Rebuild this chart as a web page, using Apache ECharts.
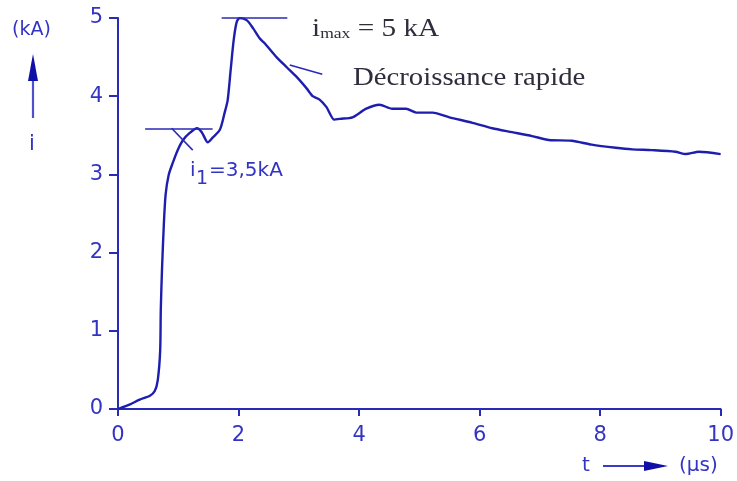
<!DOCTYPE html>
<html><head><meta charset="utf-8">
<script src="https://cdn.jsdelivr.net/npm/echarts@6/dist/echarts.min.js"></script>
<style>html,body{margin:0;padding:0;background:#fff}#c{width:737px;height:481px}</style>
</head><body><div id="c"></div>
<script>
// time (µs)
const tValues = [0,0.2,0.36,0.53,0.61,0.66,0.70,0.71,0.73,0.76,0.79,0.84,0.91,0.99,1.08,1.19,1.31,1.39,1.49,1.57,1.69,1.77,1.82,1.87,1.92,1.97,2.02,2.14,2.24,2.35,2.43,2.63,2.80,2.96,3.13,3.23,3.34,3.46,3.59,3.68,3.89,4.12,4.34,4.55,4.78,4.95,5.22,5.5,5.88,6.21,6.54,6.87,7.15,7.53,7.86,8.26,8.53,8.86,9.25,9.42,9.64,10.0];
// current (kA)
const iValues = [0,0.06,0.12,0.17,0.23,0.37,0.75,1.27,1.78,2.35,2.74,2.99,3.15,3.31,3.44,3.53,3.59,3.54,3.41,3.47,3.57,3.79,3.95,4.34,4.72,4.95,5.0,4.97,4.87,4.74,4.68,4.5,4.37,4.25,4.1,4.0,3.96,3.86,3.7,3.71,3.73,3.84,3.89,3.84,3.84,3.79,3.79,3.73,3.66,3.59,3.54,3.49,3.44,3.43,3.38,3.34,3.32,3.31,3.29,3.26,3.29,3.26];
const xTicks = [0,2,4,6,8,10];
const yTicks = [0,1,2,3,4,5];
// annotation segments [t1,i1,t2,i2]
const i1Line = [0.45,3.59,1.57,3.59];
const i1Diag = [0.89,3.59,1.24,3.31];
const imaxLine = [1.72,5.0,2.81,5.0];
const decLine = [2.85,4.4,3.39,4.28];

const AX = '#2a2ab8', CURVE = '#1e1eae', TXT = '#3434c4', SERIF = '#2e2e3c';
const series = tValues.map((t,k)=>[t,iValues[k]]);
function seg(s){return [{coord:[s[0],s[1]]},{coord:[s[2],s[3]]}];}
const SANS = '"DejaVu Sans"';

const chart = echarts.init(document.getElementById('c'));
chart.setOption({
  animation:false,
  grid:{left:118,right:15,top:18,bottom:72},
  xAxis:{type:'value',min:0,max:10,interval:2,
    axisLine:{lineStyle:{color:AX,width:2}},
    axisTick:{inside:false,length:7,lineStyle:{color:AX,width:2}},
    axisLabel:{color:TXT,fontSize:21,fontFamily:'DejaVu Sans',margin:16,
      formatter:v=>xTicks.includes(v)?String(v):''},
    splitLine:{show:false}},
  yAxis:{type:'value',min:0,max:5,interval:1,
    axisLine:{show:true,lineStyle:{color:AX,width:2}},
    axisTick:{show:true,inside:false,length:9,lineStyle:{color:AX,width:2}},
    axisLabel:{color:TXT,fontSize:21,fontFamily:'DejaVu Sans',margin:15,
      formatter:v=>yTicks.includes(v)?String(v):''},
    splitLine:{show:false}},
  series:[{type:'line',data:series,showSymbol:false,smooth:0.25,
    lineStyle:{color:CURVE,width:2.4},
    markLine:{silent:true,symbol:'none',label:{show:false},
      lineStyle:{color:AX,width:1.6,type:'solid'},
      data:[seg(i1Line),seg(i1Diag),seg(imaxLine),seg(decLine)]}}],
  graphic:[
    {type:'text',x:12,y:21,style:{text:'(kA)',fill:TXT,font:'19px '+SANS}},
    {type:'line',shape:{x1:33,y1:118,x2:33,y2:78},style:{stroke:'#5050cc',lineWidth:2.2}},
    {type:'polygon',shape:{points:[[33,54],[28,81],[38,81]]},style:{fill:'#1010a8'}},
    {type:'text',x:29,y:134,style:{text:'i',fill:TXT,font:'21px '+SANS}},
    {type:'text',x:582,y:456,style:{text:'t',fill:TXT,font:'20px '+SANS}},
    {type:'line',shape:{x1:603,y1:466,x2:648,y2:466},style:{stroke:'#3a3ac8',lineWidth:2}},
    {type:'polygon',shape:{points:[[668,466],[644,461],[644,471]]},style:{fill:'#1010a8'}},
    {type:'text',x:679,y:456,style:{text:'(µs)',fill:TXT,font:'20px '+SANS}},
    {type:'text',x:190,y:161,style:{text:'i',fill:TXT,font:'20px '+SANS}},
    {type:'text',x:196,y:170,style:{text:'1',fill:TXT,font:'19px '+SANS}},
    {type:'text',x:209,y:161,style:{text:'=3,5kA',fill:TXT,font:'20px '+SANS}},
    {type:'text',x:312,y:17,scaleX:1.17,style:{text:'{a|i}{s|max}{a| = 5 kA}',
      rich:{a:{fill:SERIF,font:'25px "Liberation Serif"',verticalAlign:'bottom'},
            s:{fill:SERIF,font:'15px "Liberation Serif"',padding:[8,0,0,0],verticalAlign:'bottom'}}}},
    {type:'text',x:353,y:66,scaleX:1.15,style:{text:'Décroissance rapide',fill:SERIF,font:'25px "Liberation Serif"'}}
  ]
});
</script></body></html>
